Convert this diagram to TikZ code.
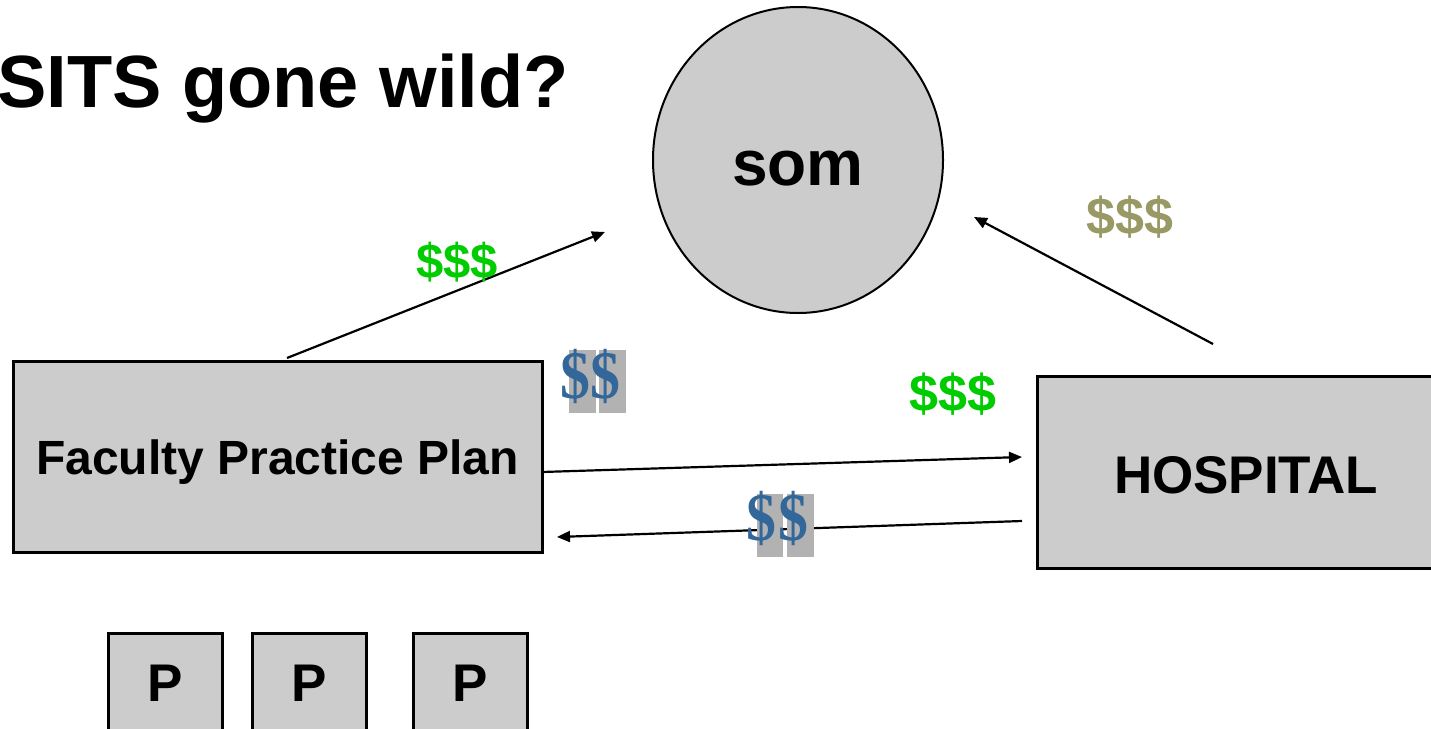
\documentclass[tikz,border=0pt]{standalone}
\usepackage{graphicx}
\usepackage{fontspec}
\setmainfont{Liberation Sans}
\newfontfamily\dollarserif{Liberation Serif}
\usetikzlibrary{arrows.meta,shapes.geometric}
\definecolor{boxgray}{HTML}{CCCCCC}
\definecolor{rectgray}{HTML}{B2B2B2}
\definecolor{moneygreen}{HTML}{00CC00}
\definecolor{moneyolive}{HTML}{999966}
\definecolor{moneyblue}{HTML}{336699}
\newcommand{\narrowdollar}{\scalebox{0.88}[1]{\$}}
\begin{document}
\begin{tikzpicture}[x=1pt,y=-1pt,
  boxnode/.style={draw=black, line width=3pt, fill=boxgray, inner sep=0pt, text depth=0pt},
  pbox/.style={boxnode, minimum width=114pt, minimum height=114pt, text height=22pt,
    font=\fontsize{53}{56}\selectfont\bfseries},
  flow/.style={-{Triangle[length=13pt,width=11pt]}, line width=2.2pt},
  money/.style={inner sep=0pt, anchor=base, font=\fontsize{52}{60}\selectfont\bfseries},
  bluedollar/.style={inner sep=0pt, anchor=base west, text=moneyblue,
    font=\fontsize{68}{72}\selectfont\dollarserif\bfseries}
]
\clip (0,0) rectangle (1431,728);
\fill[white] (0,0) rectangle (1431,728);

% title
\node[inner sep=0pt, anchor=base west, font=\fontsize{74}{78}\selectfont\bfseries] (title) at (-3,107) {SITS gone wild?};

% main shapes
\node[draw=black, line width=2pt, fill=boxgray, ellipse, minimum width=290pt, minimum height=306pt,
  inner sep=0pt, text height=50pt, text depth=0pt, font=\fontsize{64}{68}\selectfont\bfseries] (som) at (798,160) {som};
\node[boxnode, minimum width=529pt, minimum height=191pt, text height=35pt,
  font=\fontsize{48}{50}\selectfont\bfseries] (fpp) at (277.5,456.5) {Faculty Practice Plan};
\node[boxnode, minimum width=418pt, minimum height=192pt, text height=42pt,
  font=\fontsize{53}{56}\selectfont\bfseries] (hosp) at (1246,472) {HOSPITAL};

\node[pbox] (p1) at (165,690) {P};
\node[pbox] (p2) at (309,690) {P};
\node[pbox] (p3) at (470,690) {P};

% arrow end points
\coordinate (a1s) at (287,358);
\coordinate (a1e) at (605,232);
\coordinate (a2s) at (1213,344);
\coordinate (a2e) at (974,217);
\coordinate (a3s) at (542,472);
\coordinate (a3e) at (1022,457);
\coordinate (a4s) at (1022,521);
\coordinate (a4e) at (557,537);

\draw[flow] (a1s) -- (a1e);
\draw[flow] (a2s) -- (a2e);
\draw[flow] (a3s) -- (a3e);
\draw[flow] (a4s) -- (a4e);

% money labels
\node[money, text=moneygreen, font=\fontsize{49}{56}\selectfont\bfseries] (m1) at (457,278) {\$\$\$};
\node[money, text=moneyolive] (m2) at (1130,234) {\$\$\$};
\node[money, text=moneygreen] (m3) at (953,411) {\$\$\$};

% blue dollars with highlight
\fill[rectgray] (569,350) rectangle (596,413);
\fill[rectgray] (599,350) rectangle (626,413);
\node[bluedollar] (b1) at (560,398) {\narrowdollar};
\node[bluedollar] (b2) at (590,398) {\narrowdollar};

\fill[rectgray] (757,494) rectangle (783,557);
\fill[rectgray] (787,494) rectangle (814,557);
\node[bluedollar] (b3) at (746,540) {\narrowdollar};
\node[bluedollar] (b4) at (778,540) {\narrowdollar};
\end{tikzpicture}
\end{document}
